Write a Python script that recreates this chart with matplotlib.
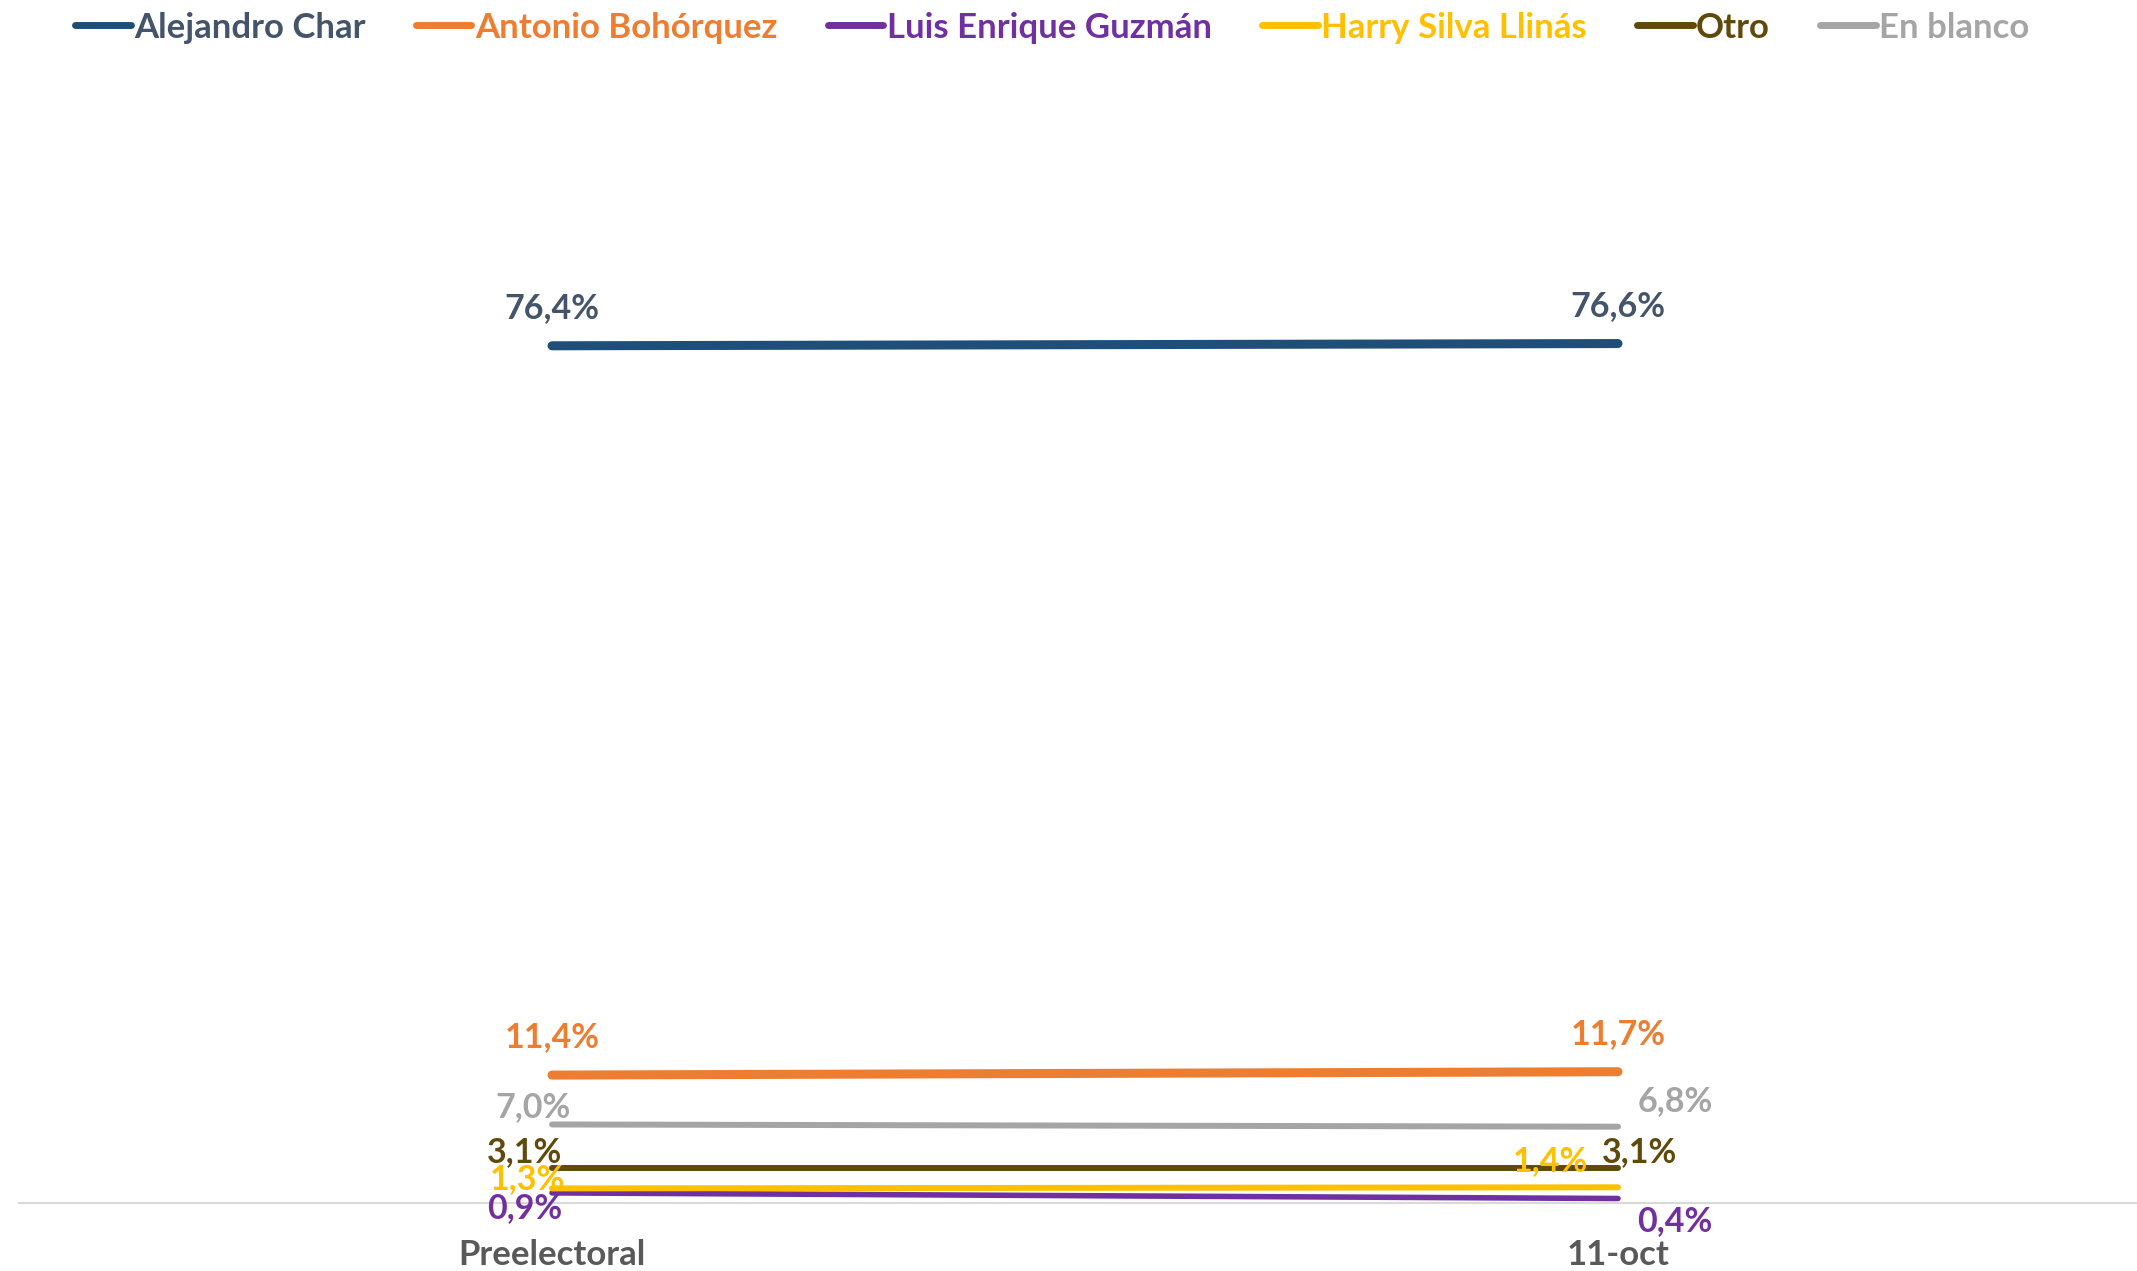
import matplotlib

matplotlib.use("Agg")
import matplotlib.pyplot as plt

categories = ["Preelectoral", "11-oct"]
series_names = ["Alejandro Char", "Antonio Bohórquez", "Luis Enrique Guzmán",
                "Harry Silva Llinás", "Otro", "En blanco"]
alejandro = [76.4, 76.6]
antonio = [11.4, 11.7]
luis = [0.9, 0.4]
harry = [1.3, 1.4]
otro = [3.1, 3.1]
blanco = [7.0, 6.8]

line_colors = ["#1F4E79", "#ED7D31", "#7030A0", "#FFC000", "#604A0B", "#A5A5A5"]
text_colors = ["#44546A", "#ED7D31", "#7030A0", "#FFC000", "#604A0B", "#A5A5A5"]
widths = [6.5, 6.5, 4.0, 4.3, 4.3, 4.3]

# label offsets in pixels (dx, dy) for each point
offsets = [
    [(0, 38), (0, 38)],
    [(0, 38), (0, 38)],
    [(-27, -15), (57, -23)],
    [(-25, 9), (-68, 26)],
    [(-27, 16), (22, 16)],
    [(-19, 17), (57, 26)],
]

plt.rcParams["font.family"] = ["Lato", "DejaVu Sans"]
plt.rcParams["font.weight"] = "bold"

fig = plt.figure(figsize=(21.37, 12.71), dpi=100)
ax = fig.add_axes([19 / 2137, 68 / 1271, 2132 / 2137, 1122 / 1271])

x = list(range(len(categories)))
all_values = [alejandro, antonio, luis, harry, otro, blanco]
for name, vals, lc, tc, lw, offs in zip(series_names, all_values, line_colors, text_colors, widths, offsets):
    ax.plot(x, vals, color=lc, linewidth=lw, solid_capstyle="round", label=name)
    for xi, v, (dx, dy) in zip(x, vals, offs):
        ax.annotate(f"{v:.1f}".replace(".", ",") + "%", (xi, v), xytext=(dx, dy),
                    textcoords="offset pixels", ha="center", va="center",
                    color=tc, fontsize=24.5, fontweight="bold")

ax.set_xlim(-0.5, 1.5)
ax.set_ylim(0, 100)
ax.set_yticks([])
ax.set_xticks(x)
ax.set_xticklabels(categories, fontsize=25, fontweight="bold", color="#595959")
ax.tick_params(axis="x", length=0, pad=26)
for side in ["top", "right", "left"]:
    ax.spines[side].set_visible(False)
ax.spines["bottom"].set_color("#D9D9D9")
ax.spines["bottom"].set_linewidth(1.5)

leg = fig.legend(loc="upper left", bbox_to_anchor=(0.0205, 1.0155), ncol=6, frameon=False,
                 labelcolor=text_colors, handlelength=1.6, handletextpad=0.1,
                 columnspacing=1.45, prop={"size": 25, "weight": "bold"})
for handle in leg.get_lines():
    handle.set_linewidth(5)

fig.savefig("out.png")
